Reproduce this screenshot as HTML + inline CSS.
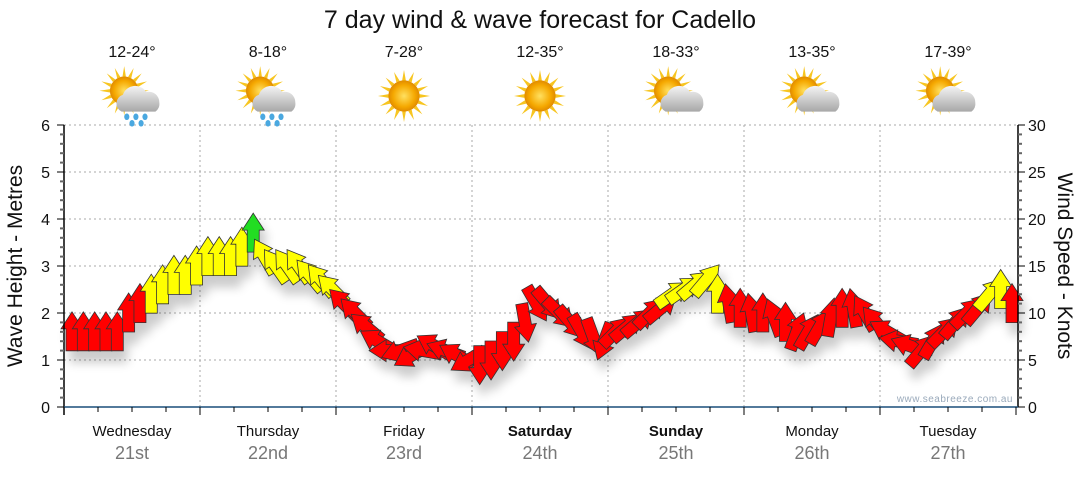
<!DOCTYPE html>
<html><head><meta charset="utf-8"><style>
body{margin:0;background:#fff;font-family:"Liberation Sans",sans-serif}
svg text{font-family:"Liberation Sans",sans-serif}
</style></head><body>
<svg width="1080" height="475" viewBox="0 0 1080 475">
<defs>
<filter id="sh" x="-50%" y="-50%" width="200%" height="200%"><feGaussianBlur stdDeviation="5"/></filter>
<radialGradient id="sun" cx="50%" cy="50%" r="50%"><stop offset="0" stop-color="#ffe060"/><stop offset="0.7" stop-color="#f5a800"/><stop offset="1" stop-color="#e08a00"/></radialGradient>
<linearGradient id="cld" x1="0" y1="0" x2="0" y2="1"><stop offset="0" stop-color="#f4f4f4"/><stop offset="1" stop-color="#a8a8a8"/></linearGradient>
</defs>
<text x="540" y="28" font-size="25" text-anchor="middle" fill="#111">7 day wind &amp; wave forecast for Cadello</text>
<g id="grid"></g>
<g id="icons"></g>
<g id="shadow" filter="url(#sh)" opacity="0.2"></g>
<g id="marks"></g>
<g id="axes"></g>
<text x="1013" y="402" font-size="10" text-anchor="end" fill="#9aaabb" letter-spacing="0.5">www.seabreeze.com.au</text>
<text transform="translate(22,266) rotate(-90)" font-size="21" text-anchor="middle" fill="#111">Wave Height - Metres</text>
<text transform="translate(1058,266) rotate(90)" font-size="21" text-anchor="middle" fill="#111">Wind Speed - Knots</text>
</svg>
<script>
const days=["Wednesday","Thursday","Friday","Saturday","Sunday","Monday","Tuesday"];
const dates=["21st","22nd","23rd","24th","25th","26th","27th"];
const boldDays=[false,false,false,true,true,false,false];
const temps=["12-24°","8-18°","7-28°","12-35°","18-33°","13-35°","17-39°"];
const weather=["rain","rain","sun","sun","cloud","cloud","cloud"];
const leftTicks=[0,1,2,3,4,5,6];
const rightTicks=[0,5,10,15,20,25,30];
const windSpeed=[8,8,8,8,8,10,11,12,13,14,14,15,
16,16,16,17,18.5,16,15,15,15,14,13.5,12.5,
11,10,8.5,7,6,6,5.5,6,6.5,6,5.5,5,
4.5,5,6,7,9,11,11,10,9,8,7.5,7,
8,8.5,9,10,10.5,12,12.5,13,13.5,12,11,10.5,
10,10,9.5,9,8,8,8.5,9.5,10.5,10.5,10,9,
8,7,6.5,6,7,8,9,10,10.5,12,12.5,11];
const windDir=[0,0,0,0,0,0,0,0,0,0,0,0,
0,0,0,0,0,-30,-35,-35,-35,-40,-40,-45,
-45,-45,-50,-60,-90,-110,-120,-80,-60,-70,-60,-120,
180,180,180,180,170,150,140,135,140,150,160,200,
45,50,50,45,50,55,55,50,40,0,-10,0,
-10,0,-20,0,20,30,30,10,0,-10,-30,-40,
-60,-80,-70,40,30,45,40,45,40,40,0,0];
const NS="http://www.w3.org/2000/svg";
const X0=64,X1=1016,Y0=407,Y6=125;
const dayW=(X1-X0)/7;
function yKn(k){return Y0-(k/30)*(Y0-Y6);}
function yM(m){return Y0-(m/6)*(Y0-Y6);}
function xIdx(i){return X0+8+i*(X1-X0-12)/(windSpeed.length-1);}
function el(t,a,p){const e=document.createElementNS(NS,t);for(const k in a)e.setAttribute(k,a[k]);p.appendChild(e);return e;}
const grid=document.getElementById('grid'),axes=document.getElementById('axes'),icons=document.getElementById('icons');
leftTicks.forEach(v=>{if(v>0){const g=el('line',{x1:X0,x2:X1,y1:yM(v),y2:yM(v),stroke:'#aaa','stroke-dasharray':'2,3'},grid);

}});
for(let d=1;d<7;d++){const g=el('line',{x1:X0+d*dayW,x2:X0+d*dayW,y1:Y6,y2:Y0,stroke:'#aaa','stroke-dasharray':'2,3'},grid);

}
el('line',{x1:X0,x2:X0,y1:Y6,y2:Y0+8,stroke:'#000','stroke-width':1.5},axes);
el('line',{x1:X1+2,x2:X1+2,y1:Y6,y2:Y0,stroke:'#000','stroke-width':1.5},axes);
el('line',{x1:X0,x2:X1+2,y1:Y0,y2:Y0,stroke:'#1a4f7a','stroke-width':1.5},axes);
for(let k=0;k<=30;k++){const y=Y0-k*(Y0-Y6)/30;const maj=k%5==0;
el('line',{x1:X0-(maj?7:4),x2:X0,y1:y,y2:y,stroke:maj?'#000':'#666','stroke-width':maj?1:2},axes);
el('line',{x1:X1+2,x2:X1+2+(maj?7:4),y1:y,y2:y,stroke:maj?'#000':'#666','stroke-width':maj?1:2},axes);}
leftTicks.forEach(v=>{const t=el('text',{x:50,y:yM(v)+6,'font-size':16,'text-anchor':'end',fill:'#111'},axes);t.textContent=v;

});
rightTicks.forEach(v=>{const t=el('text',{x:1028,y:yKn(v)+6,'font-size':16,fill:'#111'},axes);t.textContent=v;

});
for(let q=0;q<=28;q++){const x=X0+q*dayW/4;el('line',{x1:x,x2:x,y1:Y0,y2:Y0+(q%4==0?8:5),stroke:'#000'},axes);}
days.forEach((d,i)=>{const cx=X0+(i+0.5)*dayW;
const t=el('text',{x:cx,y:436,'font-size':15,'text-anchor':'middle',fill:'#111','font-weight':boldDays[i]?'bold':'normal'},axes);t.textContent=d;


const t2=el('text',{x:cx,y:459,'font-size':18,'text-anchor':'middle',fill:'#777'},axes);t2.textContent=dates[i];


const t3=el('text',{x:cx,y:57,'font-size':16,'text-anchor':'middle',fill:'#111'},icons);t3.textContent=temps[i];


const g=el('g',{transform:`translate(${cx},96) scale(1.3)`},icons);


const sx=weather[i]=='sun'?0:-6,sy=weather[i]=='sun'?0:-4,r=weather[i]=='sun'?12:11;
for(let a=0;a<16;a++){const an=a*Math.PI/8;el('polygon',{points:`${sx+Math.cos(an-0.12)*r},${sy+Math.sin(an-0.12)*r} ${sx+Math.cos(an)*(r+8)},${sy+Math.sin(an)*(r+8)} ${sx+Math.cos(an+0.12)*r},${sy+Math.sin(an+0.12)*r}`,fill:'#f7c520'},g);}
el('circle',{cx:sx,cy:sy,r:r,fill:'url(#sun)'},g);
if(weather[i]!='sun'){el('path',{d:'M-8,12 a7,7 0 0 1 1,-13 a10,10 0 0 1 18,-2 a8,8 0 0 1 10,8 a7,7 0 0 1 -3,7 z',fill:'url(#cld)'},g);}
if(weather[i]=='rain'){[[-4,16],[3,16],[10,16],[0,21],[7,21]].forEach(p=>el('ellipse',{cx:p[0],cy:p[1],rx:2,ry:2.5,fill:'#4aa8e0'},g));}
});
const marks=document.getElementById('marks'),shadow=document.getElementById('shadow');
const shape="M0,-20 L11,-3 L6,-3 L6,19 L-6,19 L-6,-3 L-11,-3 Z";
windSpeed.forEach((k,i)=>{const x=xIdx(i),y=yKn(k);
const col=k>=18?'#22dd22':(k>=11.8?'#ffff00':'#ff0000');
el('path',{d:shape,transform:`translate(${x+4},${y+10}) rotate(${windDir[i]}) scale(1.1)`,fill:'#000'},shadow);
const p=el('path',{d:shape,transform:`translate(${x},${y}) rotate(${windDir[i]})`,fill:col,stroke:'#333','stroke-width':0.8},marks);

});
</script>
</body></html>
